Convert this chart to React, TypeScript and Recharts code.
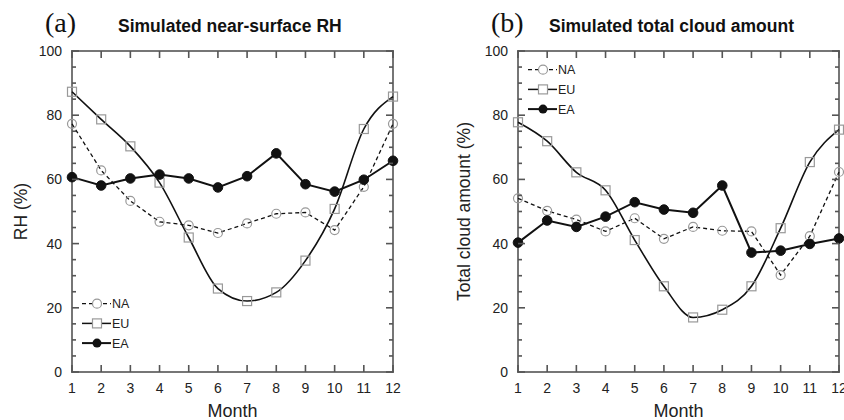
import { Line, LineChart, XAxis, YAxis } from "recharts";

const months = [1, 2, 3, 4, 5, 6, 7, 8, 9, 10, 11, 12];
const yTicks = [0, 5, 10, 15, 20, 25, 30, 35, 40, 45, 50, 55, 60, 65, 70, 75, 80, 85, 90, 95, 100];

// (a) near-surface RH (%)
const rhNA = [77.3, 62.8, 53.3, 46.8, 45.7, 43.3, 46.3, 49.3, 49.7, 44.2, 57.7, 77.3];
const rhEU = [87.3, 78.7, 70.3, 59.0, 41.9, 26.0, 22.1, 24.8, 34.7, 50.8, 75.7, 85.8];
const rhEA = [60.7, 58.1, 60.3, 61.5, 60.3, 57.5, 61.0, 68.1, 58.5, 56.2, 59.9, 65.8];

// (b) total cloud amount (%)
const cldNA = [54.1, 50.2, 47.5, 43.8, 47.9, 41.5, 45.2, 44.0, 43.8, 30.2, 42.3, 62.3];
const cldEU = [77.8, 71.9, 62.2, 56.6, 41.1, 26.7, 17.0, 19.4, 26.7, 44.8, 65.4, 75.5];
const cldEA = [40.3, 47.2, 45.2, 48.4, 52.9, 50.6, 49.6, 58.1, 37.2, 37.8, 39.9, 41.6];

const FRAME = "#555";
const MARK = "#999";
const FONT = "'Liberation Sans', Arial, Helvetica, sans-serif";
const PLOT = 321; // plot box is square, 321px
const MAJOR = 7;
const MINOR = 4;
const LW = 1.6;

const buildRows = (na: number[], eu: number[], ea: number[]) =>
  months.map((m, i) => ({ month: m, NA: na[i], EU: eu[i], EA: ea[i] }));

const OpenCircle = (props: any) => {
  const { cx, cy, index } = props;
  if (cx == null || cy == null) return null;
  return <circle key={`c${index}`} cx={cx} cy={cy} r={4.5} fill="none" stroke={MARK} strokeWidth={1.2} />;
};

const OpenSquare = (props: any) => {
  const { cx, cy, index } = props;
  if (cx == null || cy == null) return null;
  return <rect key={`s${index}`} x={cx - 4.5} y={cy - 4.5} width={9} height={9} fill="none" stroke={MARK} strokeWidth={1.2} />;
};

const FilledCircle = (props: any) => {
  const { cx, cy, index } = props;
  if (cx == null || cy == null) return null;
  return <circle key={`f${index}`} cx={cx} cy={cy} r={4.8} fill="#111" stroke="#111" />;
};

// ticks and frame drawn as thin filled strips
const MonthTick = (props: any) => {
  const { x, y, payload } = props;
  return (
    <g>
      <rect x={x - LW / 2} y={y - MAJOR} width={LW} height={MAJOR} fill={FRAME} />
      <rect x={x - LW / 2} y={y - PLOT} width={LW} height={MAJOR} fill={FRAME} />
      <text x={x} y={y + 21} textAnchor="middle" fontSize={14} fontFamily={FONT} fill="#222">
        {payload.value}
      </text>
    </g>
  );
};

const ValueTick = (props: any) => {
  const { x, y, payload } = props;
  const major = payload.value % 20 === 0;
  const len = major ? MAJOR : MINOR;
  return (
    <g>
      <rect x={x} y={y - LW / 2} width={len} height={LW} fill={FRAME} />
      <rect x={x + PLOT - len} y={y - LW / 2} width={len} height={LW} fill={FRAME} />
      {major && (
        <text x={x - 10} y={y + 5} textAnchor="end" fontSize={14} fontFamily={FONT} fill="#222">
          {payload.value}
        </text>
      )}
    </g>
  );
};

function Frame({ x, y }: { x: number; y: number }) {
  return (
    <g>
      <rect x={x - LW / 2} y={y - LW / 2} width={PLOT + LW} height={LW} fill={FRAME} />
      <rect x={x - LW / 2} y={y + PLOT - LW / 2} width={PLOT + LW} height={LW} fill={FRAME} />
      <rect x={x - LW / 2} y={y - LW / 2} width={LW} height={PLOT + LW} fill={FRAME} />
      <rect x={x + PLOT - LW / 2} y={y - LW / 2} width={LW} height={PLOT + LW} fill={FRAME} />
    </g>
  );
}

function LegendBox({ x, y }: { x: number; y: number }) {
  const rows = [
    { name: "NA", dash: "4 3", width: 1.3 },
    { name: "EU", dash: undefined, width: 1.5 },
    { name: "EA", dash: undefined, width: 2 }
  ];
  return (
    <g transform={`translate(${x}, ${y})`}>
      {rows.map((r, i) => {
        const yy = i * 19.7;
        return (
          <g key={r.name}>
            <line x1={0} x2={29} y1={yy} y2={yy} stroke="#111" strokeWidth={r.width} strokeDasharray={r.dash} />
            {i === 0 && <circle cx={15} cy={yy} r={4.5} fill="#fff" stroke={MARK} strokeWidth={1.2} />}
            {i === 1 && <rect x={10.5} y={yy - 4.5} width={9} height={9} fill="#fff" stroke={MARK} strokeWidth={1.2} />}
            {i === 2 && <circle cx={15} cy={yy} r={4.5} fill="#111" />}
            <text x={30} y={yy + 4.5} fontSize={12.5} fontFamily={FONT} fill="#222">
              {r.name}
            </text>
          </g>
        );
      })}
    </g>
  );
}

function Panel({
  width,
  left,
  right,
  yLabel,
  yLabelX,
  tag,
  title,
  tagX,
  titleX,
  legendX,
  legendY,
  na,
  eu,
  ea
}: {
  width: number;
  left: number;
  right: number;
  yLabel: string;
  yLabelX: number;
  tag: string;
  title: string;
  tagX: number;
  titleX: number;
  legendX: number;
  legendY: number;
  na: number[];
  eu: number[];
  ea: number[];
}) {
  const rows = buildRows(na, eu, ea);
  return (
    <LineChart width={width} height={420} data={rows} margin={{ top: 51, right, bottom: 0, left }}>
      <XAxis
        xAxisId="b"
        dataKey="month"
        type="number"
        domain={[1, 12]}
        ticks={months}
        height={48}
        tickLine={false}
        tickSize={0}
        tickMargin={0}
        axisLine={false}
        tick={MonthTick}
        interval={0}
        label={(props: any) => {
          const vb = props.viewBox || {};
          const cx = (vb.x ?? 0) + (vb.width ?? PLOT) / 2;
          return (
            <text x={cx} y={417} textAnchor="middle" fontSize={18} fontFamily={FONT} fill="#222">
              Month
            </text>
          );
        }}
      />
      <YAxis
        yAxisId="l"
        type="number"
        domain={[0, 100]}
        ticks={yTicks}
        width={60}
        tickLine={false}
        tickSize={0}
        tickMargin={0}
        axisLine={false}
        tick={ValueTick}
        interval={0}
        label={(props: any) => {
          const vb = props.viewBox || {};
          const cy = (vb.y ?? 51) + (vb.height ?? PLOT) / 2;
          return (
            <text x={yLabelX} y={cy} transform={`rotate(-90, ${yLabelX}, ${cy})`} textAnchor="middle" dominantBaseline="middle" fontSize={17.5} fontFamily={FONT} fill="#222">
              {yLabel}
            </text>
          );
        }}
      />
      <Frame x={left + 60} y={51} />

      <Line xAxisId="b" yAxisId="l" dataKey="NA" type="linear" stroke="#111" strokeWidth={1.3} strokeDasharray="4 3" dot={OpenCircle} activeDot={false} isAnimationActive={false} />
      <Line xAxisId="b" yAxisId="l" dataKey="EU" type="monotone" stroke="#111" strokeWidth={1.6} dot={OpenSquare} activeDot={false} isAnimationActive={false} />
      <Line xAxisId="b" yAxisId="l" dataKey="EA" type="linear" stroke="#111" strokeWidth={2} dot={FilledCircle} activeDot={false} isAnimationActive={false} />

      <text x={tagX} y={32} fontSize={28} fontFamily="'Liberation Serif', 'Times New Roman', serif" fill="#111">
        {tag}
      </text>
      <text x={titleX} y={32} fontSize={17.5} fontWeight={700} fontFamily={FONT} fill="#111">
        {title}
      </text>
      <LegendBox x={legendX} y={legendY} />
    </LineChart>
  );
}

export default function App() {
  return (
    <div style={{ position: "absolute", left: 0, top: 0, width: 844, height: 420, background: "#fff", overflow: "hidden" }}>
      <div style={{ position: "absolute", left: 0, top: 0 }}>
        <Panel
          width={420}
          left={12}
          right={27}
          yLabel="RH (%)"
          yLabelX={22}
          tag="(a)"
          title="Simulated near-surface RH"
          tagX={45}
          titleX={118}
          legendX={82}
          legendY={303.7}
          na={rhNA}
          eu={rhEU}
          ea={rhEA}
        />
      </div>
      <div style={{ position: "absolute", left: 422, top: 0 }}>
        <Panel
          width={426}
          left={36}
          right={9}
          yLabel="Total cloud amount (%)"
          yLabelX={43}
          tag="(b)"
          title="Simulated total cloud amount"
          tagX={69}
          titleX={127}
          legendX={106}
          legendY={69.7}
          na={cldNA}
          eu={cldEU}
          ea={cldEA}
        />
      </div>
    </div>
  );
}
